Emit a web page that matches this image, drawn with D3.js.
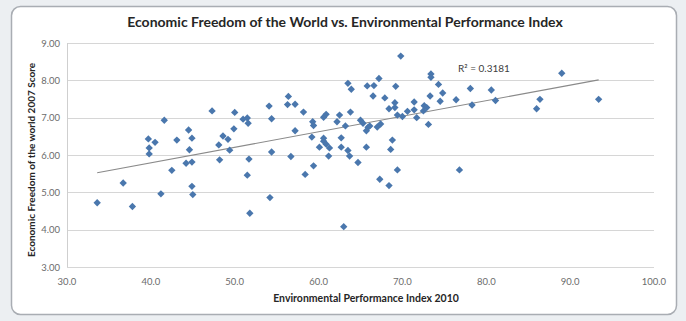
<!DOCTYPE html>
<html>
<head>
<meta charset="utf-8">
<script src="https://cdn.jsdelivr.net/npm/d3@7"></script>
<style>
  html, body { margin: 0; padding: 0; background: #eceff2; }
  svg { display: block; font-family: Lato, "Open Sans", sans-serif; }
</style>
</head>
<body>
<svg id="chart" width="686" height="321"></svg>
<script>
// EPI 2010 score per country
const epi = [
  33.6, 36.7, 37.8, 39.7, 39.8, 39.8, 40.5, 41.2, 41.6, 42.5,
  43.1, 44.2, 44.5, 44.6, 44.9, 44.9, 44.9, 45.0, 47.3, 48.1,
  48.2, 48.6, 49.2, 49.4, 50.0, 49.9, 51.0, 51.5, 51.6, 51.7,
  51.5, 51.8, 54.1, 54.4, 54.4, 54.2, 56.4, 56.3, 57.2, 57.2,
  56.7, 58.2, 58.4, 59.3, 59.4, 59.2, 59.4, 60.1, 60.6, 60.9,
  60.6, 60.6, 60.9, 61.3, 61.2, 62.5, 62.2, 62.7, 62.7, 63.0,
  63.2, 63.5, 63.9, 63.8, 63.5, 63.7, 64.7, 65.0, 65.3, 65.8,
  66.6, 66.5, 65.7, 65.9, 66.1, 65.7, 67.0, 67.4, 67.2, 67.3,
  67.9, 68.4, 68.4, 68.6, 68.8, 69.2, 69.1, 69.1, 69.4, 69.4,
  70.0, 69.8, 70.6, 71.4, 71.4, 71.7, 72.6, 72.9, 72.5, 73.1,
  73.3, 73.4, 73.4, 74.3, 74.5, 74.8, 76.4, 76.8, 78.1, 78.3,
  80.6, 81.1, 86.0, 86.4, 89.0, 93.4
];

// Economic Freedom of the World 2007 score, same order
const efw = [
  4.72, 5.25, 4.62, 6.43, 6.19, 6.03, 6.34, 4.96, 6.93, 5.59,
  6.40, 5.78, 6.67, 6.14, 6.45, 5.81, 5.16, 4.94, 7.18, 6.27,
  5.87, 6.51, 6.42, 6.13, 7.14, 6.70, 6.96, 6.99, 6.85, 5.89,
  5.46, 4.44, 7.31, 6.97, 6.08, 4.86, 7.57, 7.35, 7.36, 6.65,
  5.96, 7.15, 5.48, 6.89, 6.79, 6.48, 5.71, 6.21, 7.01, 7.09,
  6.45, 6.37, 6.29, 6.19, 5.97, 7.07, 6.89, 6.46, 6.21, 4.08,
  6.78, 7.92, 7.76, 7.15, 6.12, 5.97, 5.80, 6.93, 6.85, 7.85,
  7.86, 7.58, 6.21, 6.74, 6.78, 6.65, 6.75, 6.83, 8.05, 5.35,
  7.53, 7.24, 5.18, 6.15, 6.40, 7.84, 7.40, 7.27, 5.60, 7.07,
  7.03, 8.65, 7.17, 7.42, 7.21, 7.00, 7.32, 7.27, 7.18, 6.82,
  7.58, 8.17, 8.08, 7.89, 7.44, 7.66, 7.48, 5.60, 7.78, 7.34,
  7.74, 7.46, 7.24, 7.49, 8.19, 7.49
];

const xTicks = [30, 40, 50, 60, 70, 80, 90, 100];
const yTicks = [3, 4, 5, 6, 7, 8, 9];

const titleText = "Economic Freedom of the World vs. Environmental Performance Index";
const xTitle = "Environmental Performance Index 2010";
const yTitle = "Economic Freedom of the world 2007 Score";
const rSquaredText = "R² = 0.3181";

const svg = d3.select("#chart");

// chart frame
svg.append("rect")
  .attr("x", 11.5).attr("y", 6.5)
  .attr("width", 665).attr("height", 308)
  .attr("rx", 9)
  .attr("fill", "#ffffff")
  .attr("stroke", "#a9adb3")
  .attr("stroke-width", 1.5);

const x = d3.scaleLinear().domain([30, 100]).range([67, 654]);
const y = d3.scaleLinear().domain([3, 9]).range([267, 43]);

// horizontal gridlines
svg.append("g")
  .selectAll("line")
  .data(yTicks)
  .enter()
  .append("line")
  .attr("x1", x(30)).attr("x2", x(100))
  .attr("y1", d => Math.round(y(d)) + 0.5)
  .attr("y2", d => Math.round(y(d)) + 0.5)
  .attr("stroke", "#d6d6d6")
  .attr("stroke-width", 1);

// left axis line
svg.append("line")
  .attr("x1", x(30) + 0.5).attr("x2", x(30) + 0.5)
  .attr("y1", y(9)).attr("y2", y(3))
  .attr("stroke", "#cfcfcf");

// tick labels
svg.append("g")
  .selectAll("text")
  .data(yTicks)
  .enter()
  .append("text")
  .attr("x", x(30) - 7)
  .attr("y", d => y(d) + 3.5)
  .attr("text-anchor", "end")
  .attr("fill", "#6b6b6b")
  .style("font-size", "9.5px")
  .text(d => d3.format(".2f")(d));

svg.append("g")
  .selectAll("text")
  .data(xTicks)
  .enter()
  .append("text")
  .attr("x", d => x(d))
  .attr("y", 285)
  .attr("text-anchor", "middle")
  .attr("fill", "#6b6b6b")
  .style("font-size", "9.5px")
  .text(d => d3.format(".1f")(d));

// linear trendline (least squares)
const points = epi.map((v, i) => ({ x: v, y: efw[i] }));
const mx = d3.mean(points, d => d.x);
const my = d3.mean(points, d => d.y);
const slope = d3.sum(points, d => (d.x - mx) * (d.y - my)) / d3.sum(points, d => (d.x - mx) * (d.x - mx));
const intercept = my - slope * mx;
const [xmin, xmax] = d3.extent(epi);

svg.append("line")
  .attr("x1", x(xmin)).attr("y1", y(intercept + slope * xmin))
  .attr("x2", x(xmax)).attr("y2", y(intercept + slope * xmax))
  .attr("stroke", "#8a8a8a")
  .attr("stroke-width", 1.1);

// markers
const diamond = d3.symbol().type(d3.symbolSquare).size(27);
svg.append("g")
  .selectAll("path")
  .data(points)
  .enter()
  .append("path")
  .attr("d", diamond)
  .attr("transform", d => "translate(" + x(d.x) + "," + y(d.y) + ") rotate(45)")
  .attr("fill", "#4a77ad");

svg.append("text")
  .attr("x", 458).attr("y", 72)
  .attr("fill", "#404040")
  .style("font-size", "10px")
  .text(rSquaredText);

// titles
svg.append("text")
  .attr("x", 345).attr("y", 27)
  .attr("text-anchor", "middle")
  .attr("fill", "#262626")
  .style("font-size", "14px")
  .style("font-weight", "bold")
  .text(titleText);

svg.append("text")
  .attr("x", 366).attr("y", 302)
  .attr("text-anchor", "middle")
  .attr("fill", "#262626")
  .style("font-size", "10.5px")
  .style("font-weight", "bold")
  .text(xTitle);

svg.append("text")
  .attr("transform", "translate(35,160) rotate(-90)")
  .attr("text-anchor", "middle")
  .attr("fill", "#262626")
  .style("font-size", "10px")
  .style("font-weight", "bold")
  .text(yTitle);
</script>
</body>
</html>
